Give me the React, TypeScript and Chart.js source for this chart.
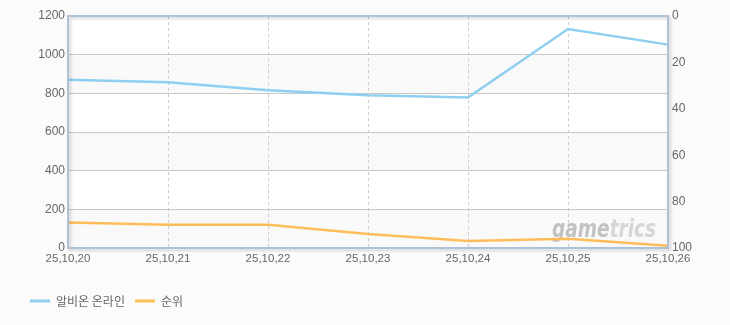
import React, { useEffect, useRef } from "react";
import { Chart, registerables } from "chart.js";

Chart.register(...registerables);

const dates = ["25,10,20", "25,10,21", "25,10,22", "25,10,23", "25,10,24", "25,10,25", "25,10,26"];
const gameSeries = [870, 857, 816, 790, 778, 1133, 1052];
const rankSeries = [89, 90, 90, 94, 97, 96, 99];
const seriesNames = ["알비온 온라인", "순위"];
const seriesColors = ["#8ecff0", "#ffbd5a"];
const leftMax = 1200;
const leftStep = 200;
const rightMax = 100;
const rightStep = 20;

const bgPlugin = {
  id: "bgPlugin",
  beforeDraw(chart: any) {
    const { ctx, chartArea: a, scales } = chart;
    ctx.save();
    ctx.fillStyle = "#fbfbfb";
    ctx.fillRect(0, 0, chart.width, chart.height);
    ctx.fillStyle = "#ffffff";
    ctx.fillRect(a.left, a.top, a.right - a.left, a.bottom - a.top);
    const y = scales.y;
    let idx = 0;
    for (let v = leftMax; v > 0; v -= leftStep) {
      if (idx % 2 === 1) {
        const t = y.getPixelForValue(v);
        const b = y.getPixelForValue(v - leftStep);
        ctx.fillStyle = "#f9f9f9";
        ctx.fillRect(a.left, t, a.right - a.left, b - t);
      }
      idx++;
    }
    ctx.restore();
  },
  beforeDatasetsDraw(chart: any) {
    const { ctx, chartArea: a } = chart;
    ctx.save();
    ctx.font = 'italic bold 24px "DejaVu Sans"';
    ctx.textBaseline = "alphabetic";
    const w1 = ctx.measureText("game").width;
    const w2 = ctx.measureText("trics").width;
    const total = w1 + w2;
    const scale = 104 / total;
    ctx.translate(a.right - 12 - 104, a.bottom - 11);
    ctx.scale(scale, 1);
    ctx.fillStyle = "#c2c2c2";
    ctx.fillText("game", 0, 0);
    ctx.fillStyle = "#d6d6d6";
    ctx.fillText("trics", w1, 0);
    ctx.restore();
  },
  afterDraw(chart: any) {
    const { ctx, chartArea: a } = chart;
    ctx.save();
    ctx.shadowColor = "rgba(0,0,0,0.18)";
    ctx.shadowOffsetX = 2;
    ctx.shadowOffsetY = 2;
    ctx.shadowBlur = 3;
    ctx.strokeStyle = "#afc1d4";
    ctx.lineWidth = 2;
    ctx.strokeRect(a.left, a.top, a.right - a.left, a.bottom - a.top);
    ctx.restore();
  },
};

export default function App() {
  const ref = useRef<HTMLCanvasElement | null>(null);
  useEffect(() => {
    if (!ref.current) return;
    const tickFont = { family: '"Liberation Sans", Arial, sans-serif', size: 12 };
    const chart = new Chart(ref.current, {
      type: "line",
      data: {
        labels: dates,
        datasets: [
          {
            label: seriesNames[0],
            data: gameSeries,
            borderColor: seriesColors[0],
            backgroundColor: seriesColors[0],
            borderWidth: 2.5,
            pointRadius: 0,
            tension: 0,
            yAxisID: "y",
          },
          {
            label: seriesNames[1],
            data: rankSeries,
            borderColor: seriesColors[1],
            backgroundColor: seriesColors[1],
            borderWidth: 2.5,
            pointRadius: 0,
            tension: 0,
            yAxisID: "y1",
          },
        ],
      },
      options: {
        responsive: false,
        maintainAspectRatio: false,
        animation: false,
        layout: { padding: { left: 20, right: 0, top: 16, bottom: 8 } },
        plugins: {
          tooltip: { enabled: false },
          legend: {
            position: "bottom",
            align: "start",
            labels: {
              boxWidth: 20,
              boxHeight: 3,
              padding: 10,
              color: "#666",
              font: { family: '"Noto Sans CJK KR", sans-serif', size: 12 },
              generateLabels: (c: any) =>
                c.data.datasets.map((ds: any, i: number) => ({
                  text: ds.label,
                  fillStyle: ds.borderColor,
                  strokeStyle: ds.borderColor,
                  lineWidth: 0,
                  hidden: false,
                  datasetIndex: i,
                  fontColor: "#666",
                })),
            },
          },
        },
        scales: {
          x: {
            type: "category",
            offset: false,
            grid: { color: "#cccccc", drawTicks: false, lineWidth: 1 },
            border: { display: false, dash: [3, 3] },
            ticks: { color: "#666", font: { ...tickFont, size: 11.5 }, padding: 4, maxRotation: 0, autoSkip: false },
            afterFit: (s: any) => {
              s.height = 37;
            },
          },
          y: {
            position: "left",
            min: 0,
            max: leftMax,
            grid: { color: "#c8c8c8", drawTicks: false },
            border: { display: false },
            ticks: {
              stepSize: leftStep,
              color: "#666",
              font: tickFont,
              padding: 3,
              callback: (v: any) => String(v),
            },
            afterFit: (s: any) => {
              s.width = 48;
            },
          },
          y1: {
            position: "right",
            min: 0,
            max: rightMax,
            reverse: true,
            grid: { display: false, drawTicks: false },
            border: { display: false },
            ticks: {
              stepSize: rightStep,
              color: "#666",
              font: tickFont,
              padding: 4,
              callback: (v: any) => String(v),
            },
            afterFit: (s: any) => {
              s.width = 62;
            },
          },
        },
      },
      plugins: [bgPlugin],
    } as any);
    return () => chart.destroy();
  }, []);
  return (
    <div style={{ position: "fixed", left: 0, top: 0, width: 730, height: 325, background: "#fbfbfb" }}>
      <canvas ref={ref} width={730} height={325} style={{ display: "block" }} />
    </div>
  );
}
